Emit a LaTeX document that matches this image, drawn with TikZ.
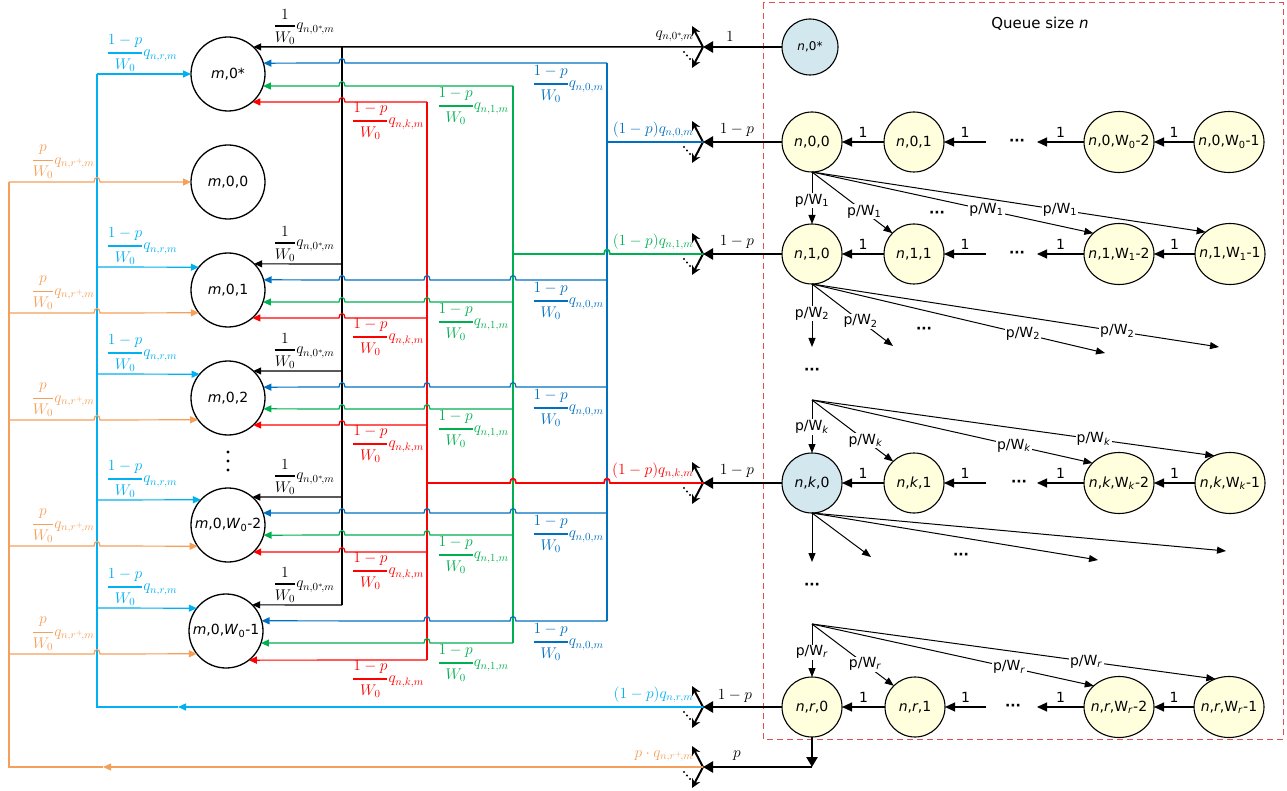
\RequirePackage{fix-cm}
\documentclass[tikz,border=0pt]{standalone}
\usepackage{amsmath}
\usepackage{fontspec}
\setmainfont{DejaVu Sans}
\usetikzlibrary{arrows.meta,shapes.geometric}
\definecolor{cblue}{HTML}{0070C0}
\definecolor{ccyan}{HTML}{00B0F0}
\definecolor{cgreen}{HTML}{00B050}
\definecolor{cred}{HTML}{FF0000}
\definecolor{corange}{HTML}{F5A05A}
\definecolor{nyellow}{HTML}{FFFFDD}
\definecolor{nblue}{HTML}{D3E7EF}
\definecolor{boxred}{HTML}{E05050}
\newcommand\fr[2]{\genfrac{}{}{1.6pt}{0}{#1}{#2}}
% right-side branch into an m-node, with humps
\newcommand\rwire[6]{%
  \pgfmathtruncatemacro\wang{round(asin((#3-(#4))/37))}%
  \draw[#1] (#5,#4) \foreach \h in {#6}{ -- (\h+3,#4) .. controls (\h+3,#4-6) and (\h-3,#4-6) .. (\h-3,#4)} -- (#2.\wang);}
% right-side branch, no humps
\newcommand\rwirep[5]{%
  \pgfmathtruncatemacro\wang{round(asin((#3-(#4))/37))}%
  \draw[#1] (#5,#4) -- (#2.\wang);}
% left-side branch, no humps
\newcommand\lwire[5]{%
  \pgfmathtruncatemacro\wang{180-round(asin((#3-(#4))/37))}%
  \draw[#1] (#5,#4) -- (#2.\wang);}
% left-side branch with one hump
\newcommand\lwireh[6]{%
  \pgfmathtruncatemacro\wang{180-round(asin((#3-(#4))/37))}%
  \draw[#1] (#5,#4) -- (#6-3,#4) .. controls (#6-3,#4-6) and (#6+3,#4-6) .. (#6+3,#4) -- (#2.\wang);}
\newcommand\splitter[3]{%
  \coordinate (#1) at (#2,#3);
  \draw[splarr] (#1) -- ++(-11,-21);
  \draw[splarr] (#1) -- ++(-11,21);
  \fill (#2-19,#3+5) circle (1.1) (#2-16,#3+8.5) circle (1.1) (#2-13,#3+12) circle (1.1);}
\begin{document}
\begin{tikzpicture}[x=1pt,y=-1pt,
  every node/.style={font=\fontsize{14}{16}\selectfont},
  mnode/.style={circle,draw=black,line width=1.3pt,fill=white,minimum size=74,inner sep=0pt,outer sep=0pt},
  ncirc/.style={circle,draw=black,line width=1.1pt,minimum size=60,inner sep=0pt,outer sep=0pt},
  nell/.style={ellipse,draw=black,line width=1.1pt,minimum width=70,minimum height=61,inner sep=0pt,outer sep=0pt},
  yfill/.style={fill=nyellow}, bfill/.style={fill=nblue},
  tri/.style={-{Triangle[length=8pt,width=7pt]}},
  bw/.style={line width=1.2pt,tri},
  trunk/.style={line width=1.7pt},
  fanarr/.style={line width=1pt,-{Triangle[length=9pt,width=7pt]}},
  fanlbl/.style={fill=white,inner sep=1pt},
  rowarr/.style={line width=1.1pt,-{Triangle[length=10pt,width=9pt]}},
  bigarr/.style={line width=2.6pt,-{Triangle[length=10pt,width=11pt]}},
  splarr/.style={line width=2pt,-{Stealth[length=9pt,width=9pt]}},
  qlbl/.style={inner sep=0pt,font=\fontsize{15.5}{18}\selectfont},
  mlbl/.style={font=\fontsize{15.5}{18}\selectfont},
  dots/.style={font=\fontsize{14}{16}\selectfont\bfseries}]
\useasboundingbox (0,0) rectangle (1287,791);
% queue box
\draw[boxred,line width=1pt,dash pattern=on 6pt off 4pt] (763,3) rectangle (1283,739);
\node (title) at (1040,24) {\fontsize{15}{17}\selectfont Queue size \textit{n}};
% m nodes
\node[mnode] (m0s) at (228,74) {\makebox[0pt]{\textit{m},0*}};
\node[mnode] (m00) at (228,182) {\makebox[0pt]{\textit{m},0,0}};
\node[mnode] (m01) at (228,290) {\makebox[0pt]{\textit{m},0,1}};
\node[mnode] (m02) at (228,398) {\makebox[0pt]{\textit{m},0,2}};
\node[mnode] (mW2) at (228,525) {\makebox[0pt]{\textit{m},0,\textit{W}\textsubscript{0}-2}};
\node[mnode] (mW1) at (226,631) {\makebox[0pt]{\textit{m},0,\textit{W}\textsubscript{0}-1}};
\fill (228,452) circle (1.7) (228,461) circle (1.7) (228,470) circle (1.7);
% n nodes
\node[ncirc,bfill,minimum size=56] (n0s) at (810,47) {\makebox[0pt]{\fontsize{12}{14}\selectfont\textit{n},0*}};
\node[ncirc,yfill] (n00) at (812,142) {\makebox[0pt]{\textit{n},0,0}};
\node[ncirc,yfill] (n01) at (914,142) {\makebox[0pt]{\textit{n},0,1}};
\node[dots] (d0) at (1017,142) {···};
\node[nell,yfill] (n0w2) at (1119,142) {\makebox[0pt]{\textit{n},0,W\textsubscript{0}-2}};
\node[nell,yfill] (n0w1) at (1229,142) {\makebox[0pt]{\textit{n},0,W\textsubscript{0}-1}};
\node[ncirc,yfill] (n10) at (812,254) {\makebox[0pt]{\textit{n},1,0}};
\node[ncirc,yfill] (n11) at (914,254) {\makebox[0pt]{\textit{n},1,1}};
\node[dots] (d1) at (1017,254) {···};
\node[nell,yfill] (n1w2) at (1119,254) {\makebox[0pt]{\textit{n},1,W\textsubscript{1}-2}};
\node[nell,yfill] (n1w1) at (1230,254) {\makebox[0pt]{\textit{n},1,W\textsubscript{1}-1}};
\node[ncirc,bfill] (nk0) at (812,483) {\makebox[0pt]{\textit{n},\textit{k},0}};
\node[ncirc,yfill] (nk1) at (914,483) {\makebox[0pt]{\textit{n},\textit{k},1}};
\node[dots] (dk) at (1019,483) {···};
\node[nell,yfill] (nkw2) at (1119,483) {\makebox[0pt]{\textit{n},\textit{k},W\textsubscript{\textit{k}}-2}};
\node[nell,yfill] (nkw1) at (1230,483) {\makebox[0pt]{\textit{n},\textit{k},W\textsubscript{\textit{k}}-1}};
\node[ncirc,yfill] (nr0) at (812,707) {\makebox[0pt]{\textit{n},\textit{r},0}};
\node[ncirc,yfill] (nr1) at (915,707) {\makebox[0pt]{\textit{n},\textit{r},1}};
\node[dots] (dr) at (1013,707) {···};
\node[nell,yfill] (nrw2) at (1119,707) {\makebox[0pt]{\textit{n},\textit{r},W\textsubscript{\textit{r}}-2}};
\node[nell,yfill] (nrw1) at (1229,707) {\makebox[0pt]{\textit{n},\textit{r},W\textsubscript{\textit{r}}-1}};
% row chains
\foreach \r in {0,1,k,r}{
  \draw[rowarr] (n\r1) -- (n\r0) node[midway,above=1pt]{1};
  \coordinate (a\r) at (986,0 |- n\r0);
  \coordinate (b\r) at (1037,0 |- n\r0);
  \draw[rowarr] (a\r) -- (n\r1) node[midway,above=1pt]{1};
  \draw[rowarr] (n\r w2) -- (b\r) node[midway,above=1pt]{1};
  \draw[rowarr] (n\r w1) -- (n\r w2) node[midway,above=1pt]{1};
}
% fans
\draw[fanarr] (n00.south) -- (n10.north) node[fanlbl,pos=0.55]{p/W\textsubscript{1}};
\draw[fanarr] (n00.south) -- (n11.136) node[fanlbl,pos=0.65]{p/W\textsubscript{1}};
\draw[fanarr] (n00.south) -- (n1w2.141) node[fanlbl,pos=0.62]{p/W\textsubscript{1}};
\draw[fanarr] (n00.south) -- (n1w1.138) node[fanlbl,pos=0.63]{p/W\textsubscript{1}};
\node[dots] (df0) at (937,214) {···};
\coordinate (e1a) at (812,347); \coordinate (e1b) at (893,346);
\coordinate (e1c) at (1105,353); \coordinate (e1d) at (1219,347);
\draw[fanarr] (n10.south) -- (e1a) node[fanlbl,pos=0.47]{p/W\textsubscript{2}};
\draw[fanarr] (n10.south) -- (e1b) node[fanlbl,pos=0.6]{p/W\textsubscript{2}};
\draw[fanarr] (n10.south) -- (e1c) node[fanlbl,pos=0.72]{p/W\textsubscript{2}};
\draw[fanarr] (n10.south) -- (e1d) node[fanlbl,pos=0.75]{p/W\textsubscript{2}};
\node[dots] (df1) at (924,330) {···};
\node[dots] (dv1) at (812,371) {···};
\coordinate (fk) at (812,400);
\draw[fanarr] (fk) -- (nk0.north) node[fanlbl,pos=0.51]{p/W\textsubscript{\textit{k}}};
\draw[fanarr] (fk) -- (nk1.134) node[fanlbl,pos=0.66]{p/W\textsubscript{\textit{k}}};
\draw[fanarr] (fk) -- (nkw2.143) node[fanlbl,pos=0.72]{p/W\textsubscript{\textit{k}}};
\draw[fanarr] (fk) -- (nkw1.120) node[fanlbl,pos=0.70]{p/W\textsubscript{\textit{k}}};
\coordinate (eka) at (812,562); \coordinate (ekb) at (871,557);
\coordinate (ekc) at (1098,560); \coordinate (ekd) at (1226,551);
\draw[fanarr] (nk0.south) -- (eka);
\draw[fanarr] (nk0.south) -- (ekb);
\draw[fanarr] (nk0.south) -- (ekc);
\draw[fanarr] (nk0.south) -- (ekd);
\node[dots] (dfk) at (961,556) {···};
\node[dots] (dvk) at (812,586) {···};
\coordinate (fr) at (812,624);
\draw[fanarr] (fr) -- (nr0.north) node[fanlbl,pos=0.53]{p/W\textsubscript{\textit{r}}};
\draw[fanarr] (fr) -- (nr1.135) node[fanlbl,pos=0.65]{p/W\textsubscript{\textit{r}}};
\draw[fanarr] (fr) -- (nrw2.140) node[fanlbl,pos=0.70]{p/W\textsubscript{\textit{r}}};
\draw[fanarr] (fr) -- (nrw1.116) node[fanlbl,pos=0.68]{p/W\textsubscript{\textit{r}}};
% splitters
\splitter{S0s}{703}{47}
\splitter{S0}{703}{142}
\splitter{S1}{703}{254}
\splitter{Sk}{703}{483}
\splitter{Sr}{703}{707}
\splitter{Sp}{703}{767}
\coordinate (pc) at (812,767);
\draw[bigarr] (n0s) -- (S0s);
\draw[bigarr] (n00) -- (S0);
\draw[bigarr] (n10) -- (S1);
\draw[bigarr] (nk0) -- (Sk);
\draw[bigarr] (nr0) -- (Sr);
\draw[bigarr] (nr0) -- (pc);
\draw[bigarr] (pc) -- (Sp);
\node[mlbl] (l0s) at (730,37) {$1$};
\node[mlbl] (l00) at (737,130) {$1-p$};
\node[mlbl] (l10) at (737,242) {$1-p$};
\node[mlbl] (lk0) at (737,471) {$1-p$};
\node[mlbl] (lr0) at (735,696) {$1-p$};
\node[mlbl] (lp0) at (737,756) {$p$};
% source lines
\node[mlbl,anchor=east] (s0s) at (697,36) {$q_{n,0^*\!,m}$};
\node[mlbl,anchor=east,text=cblue] (s0) at (697,130) {$(1-p)q_{n,0,m}$};
\node[mlbl,anchor=east,text=cgreen] (s1) at (697,242) {$(1-p)q_{n,1,m}$};
\node[mlbl,anchor=east,text=cred] (sk) at (697,471) {$(1-p)q_{n,k,m}$};
\node[mlbl,anchor=east,text=ccyan] (sr) at (697,695) {$(1-p)q_{n,r,m}$};
\node[mlbl,anchor=east,text=corange] (sp) at (697,756) {$p\cdot q_{n,r^+\!,m}$};
% trunks
\coordinate (tK) at (342,47);
\draw[trunk] (tK) -- (342,605);
\draw[trunk,cblue] (S0) -- (607,142);
\draw[trunk,cblue] (607,63) -- (607,621);
\draw[trunk,cgreen] (S1) -- (610,254) .. controls (610,248) and (604,248) .. (604,254) -- (513,254);
\draw[trunk,cgreen] (513,86) -- (513,643);
\draw[trunk,cred] (Sk) -- (610,483) .. controls (610,477) and (604,477) .. (604,483) -- (516,483) .. controls (516,477) and (510,477) .. (510,483) -- (427,483);
\draw[trunk,cred] (427,102) -- (427,660);
\coordinate (cm) at (178,707);
\draw[line width=1.3pt,ccyan,tri] (Sr) -- (cm);
\draw[line width=1.3pt,ccyan] (cm) -- (97,707) -- (97,74);
\coordinate (om) at (103,767);
\draw[line width=1.3pt,corange,tri] (Sp) -- (om);
\draw[line width=1.3pt,corange] (om) -- (9,767) -- (9,182);
% black branches
\draw[line width=1.5pt,tri] (S0s) -- (m0s.47);
\rwirep{bw}{m01}{290}{264}{342}
\rwirep{bw}{m02}{398}{371}{342}
\rwirep{bw}{mW2}{525}{497}{342}
\rwirep{bw}{mW1}{631}{605}{342}
% blue branches
\rwire{bw,cblue}{m0s}{74}{63}{607}{342}
\rwire{bw,cblue}{m01}{290}{280}{607}{513,427,342}
\rwire{bw,cblue}{m02}{398}{387}{607}{513,427,342}
\rwire{bw,cblue}{mW2}{525}{513}{607}{513,427,342}
\rwire{bw,cblue}{mW1}{631}{621}{607}{513,427}
% green branches
\rwire{bw,cgreen}{m0s}{74}{86}{513}{342}
\rwire{bw,cgreen}{m01}{290}{302}{513}{427,342}
\rwire{bw,cgreen}{m02}{398}{409}{513}{427,342}
\rwire{bw,cgreen}{mW2}{525}{535}{513}{427,342}
\rwire{bw,cgreen}{mW1}{631}{643}{513}{427}
% red branches
\rwire{bw,cred}{m0s}{74}{102}{427}{342}
\rwire{bw,cred}{m01}{290}{318}{427}{342}
\rwire{bw,cred}{m02}{398}{425}{427}{342}
\rwire{bw,cred}{mW2}{525}{552}{427}{342}
\rwirep{bw,cred}{mW1}{631}{660}{427}
% cyan branches
\lwire{bw,ccyan}{m0s}{74}{74}{97}
\lwire{bw,ccyan}{m01}{290}{267}{97}
\lwire{bw,ccyan}{m02}{398}{374}{97}
\lwire{bw,ccyan}{mW2}{525}{500}{97}
\lwire{bw,ccyan}{mW1}{631}{608}{97}
% orange branches
\lwireh{bw,corange}{m00}{182}{182}{9}{97}
\lwireh{bw,corange}{m01}{290}{313}{9}{97}
\lwireh{bw,corange}{m02}{398}{420}{9}{97}
\lwireh{bw,corange}{mW2}{525}{546}{9}{97}
\lwireh{bw,corange}{mW1}{631}{654}{9}{97}
% branch labels
\foreach \yy [count=\i] in {27,244,351,477,585}
  \node[qlbl] (kb\i) at (304,\yy) {$\fr{1}{W_0}q_{n,0^*\!,m}$};
\foreach \yy [count=\i] in {84,301,408,534,642}
  \node[qlbl,text=cblue] (kl\i) at (568,\yy) {$\fr{1-p}{W_0}q_{n,0,m}$};
\foreach \yy [count=\i] in {106,322,429,555,663}
  \node[qlbl,text=cgreen] (kg\i) at (473,\yy) {$\fr{1-p}{W_0}q_{n,1,m}$};
\foreach \yy [count=\i] in {121,337,444,571,679}
  \node[qlbl,text=cred] (kr\i) at (388,\yy) {$\fr{1-p}{W_0}q_{n,k,m}$};
\foreach \yy [count=\i] in {53,246,353,479,587}
  \node[qlbl,text=ccyan] (kc\i) at (142,\yy) {$\fr{1-p}{W_0}q_{n,r,m}$};
\foreach \yy [count=\i] in {162,293,400,526,634}
  \node[qlbl,text=corange] (ko\i) at (63,\yy) {$\fr{p}{W_0}q_{n,r^+\!,m}$};
\end{tikzpicture}
\end{document}
